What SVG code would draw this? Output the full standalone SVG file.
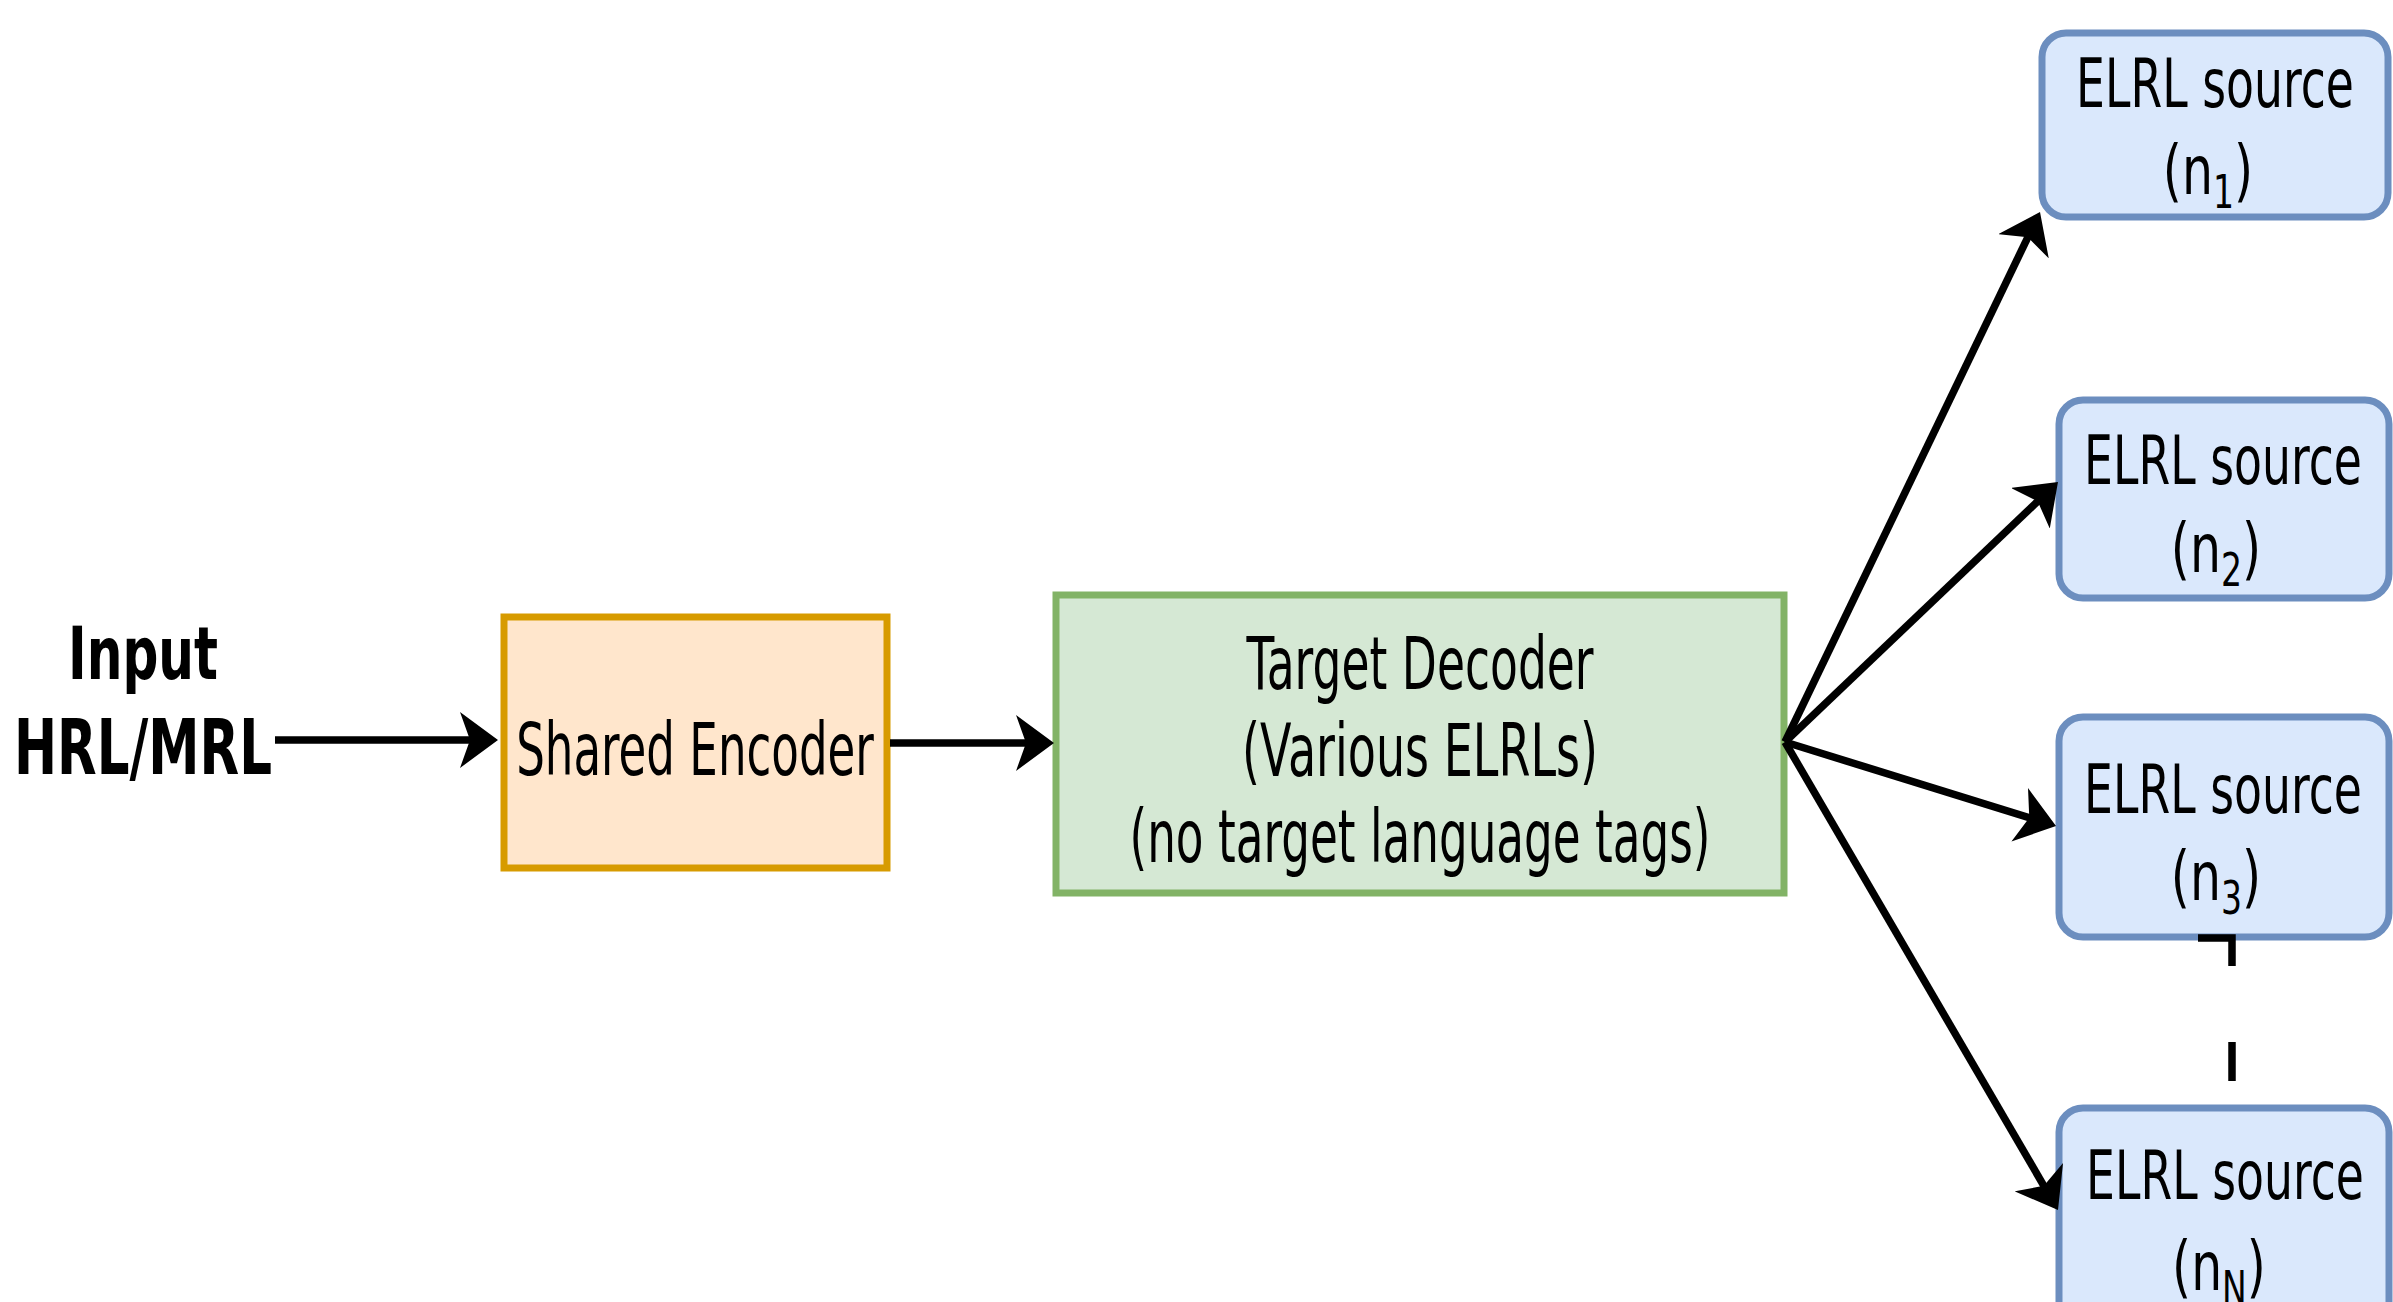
<svg xmlns="http://www.w3.org/2000/svg" width="2393" height="1302" viewBox="0 0 2393 1302">
<style>
.t{font-family:"DejaVu Sans","Liberation Sans",sans-serif;fill:#000;text-anchor:middle}
.b{font-weight:bold}
.main{font-size:73px}
.elrl{font-size:68px}
.sub{font-size:46px}
.enc{fill:#ffe6cc;stroke:#d79b00;stroke-width:7}
.dec{fill:#d5e8d4;stroke:#82b366;stroke-width:7}
.src{fill:#dae8fc;stroke:#6c8ebf;stroke-width:7}
.c{stroke:#000;stroke-width:7.5;fill:none}
</style>
<defs>
<marker id="arr" markerUnits="userSpaceOnUse" markerWidth="40" markerHeight="56" viewBox="0 0 40 56" refX="14" refY="28" orient="auto">
<path d="M0,0 L38,28 L0,56 L10,28 Z" fill="#000"/>
</marker>
</defs>
<rect width="2393" height="1302" fill="#fff"/>
<g id="input">
<text class="t b main" transform="translate(143,679) scale(0.62,1)" textLength="242" lengthAdjust="spacingAndGlyphs">Input</text>
<text class="t b" style="font-size:77px" transform="translate(143,774) scale(0.62,1)" textLength="416" lengthAdjust="spacingAndGlyphs">HRL/MRL</text>
</g>
<g id="encoder">
<rect class="enc" x="504" y="617" width="383" height="251"/>
<text class="t main" transform="translate(695,775) scale(0.62,1)" textLength="577" lengthAdjust="spacingAndGlyphs">Shared Encoder</text>
</g>
<g id="decoder">
<rect class="dec" x="1056" y="595" width="728" height="298"/>
<text class="t main" transform="translate(1420,689) scale(0.62,1)" textLength="560" lengthAdjust="spacingAndGlyphs">Target Decoder</text>
<text class="t main" transform="translate(1420,776) scale(0.62,1)" textLength="574" lengthAdjust="spacingAndGlyphs">(Various ELRLs)</text>
<text class="t main" transform="translate(1420,862) scale(0.62,1)" textLength="937" lengthAdjust="spacingAndGlyphs">(no target language tags)</text>
</g>
<g id="src1">
<rect class="src" x="2042" y="33" width="346" height="184" rx="24"/>
<text class="t elrl" transform="translate(2215,107) scale(0.66,1)" textLength="421" lengthAdjust="spacingAndGlyphs">ELRL source</text>
<text class="t elrl" transform="translate(2208,194) scale(0.7,1)" textLength="129" lengthAdjust="spacingAndGlyphs">(n<tspan class="sub" dy="14">1</tspan><tspan dy="-14">)</tspan></text>
</g>
<g id="src2">
<rect class="src" x="2059" y="400" width="330" height="198" rx="24"/>
<text class="t elrl" transform="translate(2223,484) scale(0.66,1)" textLength="421" lengthAdjust="spacingAndGlyphs">ELRL source</text>
<text class="t elrl" transform="translate(2216,572) scale(0.7,1)" textLength="129" lengthAdjust="spacingAndGlyphs">(n<tspan class="sub" dy="14">2</tspan><tspan dy="-14">)</tspan></text>
</g>
<g id="src3">
<rect class="src" x="2059" y="717" width="330" height="220" rx="24"/>
<text class="t elrl" transform="translate(2223,813) scale(0.66,1)" textLength="421" lengthAdjust="spacingAndGlyphs">ELRL source</text>
<text class="t elrl" transform="translate(2216,900) scale(0.7,1)" textLength="129" lengthAdjust="spacingAndGlyphs">(n<tspan class="sub" dy="14">3</tspan><tspan dy="-14">)</tspan></text>
</g>
<g id="srcN">
<rect class="src" x="2059" y="1108" width="330" height="260" rx="24"/>
<text class="t elrl" transform="translate(2225,1199) scale(0.66,1)" textLength="421" lengthAdjust="spacingAndGlyphs">ELRL source</text>
<text class="t elrl" transform="translate(2219,1290) scale(0.7,1)" textLength="134" lengthAdjust="spacingAndGlyphs">(n<tspan class="sub" dy="14">N</tspan><tspan dy="-14">)</tspan></text>
</g>
<g id="connectors">
<line class="c" x1="275" y1="740" x2="474" y2="740" marker-end="url(#arr)"/>
<line class="c" x1="890" y1="743" x2="1030" y2="743" marker-end="url(#arr)"/>
<line class="c" x1="1785" y1="742" x2="2029.6" y2="233.6" marker-end="url(#arr)"/>
<line class="c" x1="1785" y1="742" x2="2040.6" y2="498.6" marker-end="url(#arr)"/>
<line class="c" x1="1785" y1="742" x2="2033.1" y2="818.9" marker-end="url(#arr)"/>
<line class="c" x1="1785" y1="742" x2="2045.9" y2="1189.3" marker-end="url(#arr)"/>
<path class="c" d="M2198,938 H2232 V966"/>
<line class="c" x1="2232" y1="1042" x2="2232" y2="1081"/>
</g>
</svg>
